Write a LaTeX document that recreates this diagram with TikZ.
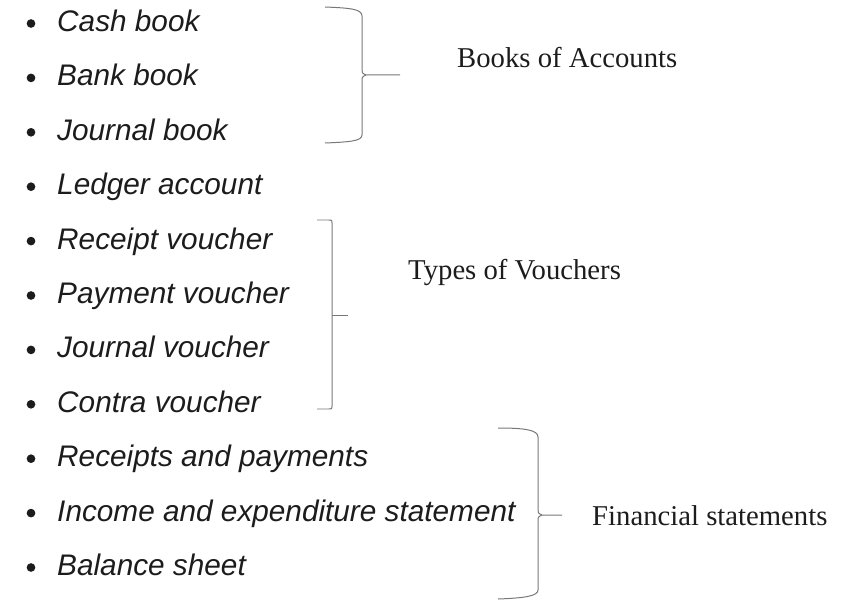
\documentclass[tikz,border=0pt]{standalone}
\usepackage{fontspec}
\setmainfont{Liberation Serif}
\newfontfamily\itemfont{Liberation Sans}
\usetikzlibrary{positioning}
\definecolor{inkgray}{RGB}{28, 28, 28}
\definecolor{bracegray}{RGB}{120, 120, 120}

\begin{document}
\begin{tikzpicture}[
    x=0.03cm, y=-0.03cm,
    entry/.style={anchor=base west, inner sep=0pt, text=inkgray,
                  font=\itemfont\itshape\fontsize{25.4}{26}\selectfont},
    bullet/.style={circle, fill=inkgray, inner sep=0pt, minimum size=0.26cm},
    grouplabel/.style={anchor=base west, inner sep=0pt, text=inkgray,
                  font=\fontsize{24.5}{25}\selectfont},
    brace/.style={draw=bracegray, line width=0.85pt, line join=round}
]
    % page frame
    \useasboundingbox (0,0) rectangle (841,600);

    % List entries
    \foreach \name/\txt [count=\i from 0] in {
        cash/Cash book, bank/Bank book, journal/Journal book, ledger/Ledger account,
        receipt/Receipt voucher, payment/Payment voucher, jvoucher/Journal voucher,
        contra/Contra voucher, recpay/Receipts and payments,
        income/Income and expenditure statement, balance/Balance sheet}
    {
        \node[entry] (\name) at (57, 31.5+54.4*\i) {\txt};
        \node[bullet] (\name-dot) at (31, 23.5+54.4*\i) {};
    }

    % Books of Accounts
    \draw[brace] (325,7) .. controls (350,8) and (362,9) .. (362,16) -- (362,70)
        .. controls (362,73) .. (366,75) -- (400,75);
    \draw[brace] (366,75) .. controls (362,77) .. (362,81) -- (362,135)
        .. controls (362,141) and (350,142) .. (325,143);
    \node[grouplabel] (books) at (457, 68) {Books of Accounts};

    % Types of Vouchers
    \draw[brace] (317,220) -- (329,220) .. controls (332,220) .. (332,223) -- (332,406)
        .. controls (332,409) .. (329,409) -- (317,409);
    \draw[brace] (332,315) -- (348,315);
    \node[grouplabel] (vouchers) at (408, 280) {Types of Vouchers};

    % Financial statements
    \draw[brace] (498,428) .. controls (525,428) and (538,430) .. (538,437) -- (538,510)
        .. controls (538,513) .. (542,515) -- (562,515);
    \draw[brace] (542,515) .. controls (538,517) .. (538,521) -- (538,590)
        .. controls (538,596) and (525,598) .. (498,599);
    \node[grouplabel] (financial) at (592, 525) {Financial statements};
\end{tikzpicture}
\end{document}
